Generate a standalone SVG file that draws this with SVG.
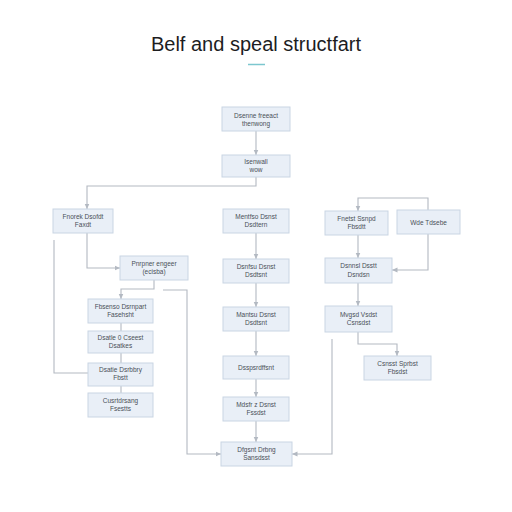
<svg xmlns="http://www.w3.org/2000/svg" width="512" height="512" viewBox="0 0 512 512">
<style>
.n rect{fill:#e9eff7;stroke:#c9d5e3;stroke-width:1}
.n text{font-family:"Liberation Sans",Arial,sans-serif;font-size:6.5px;fill:#4a4f57;text-anchor:middle}
.c path{fill:none;stroke:#b3b9c2;stroke-width:1.1}
.title{font-family:"Liberation Sans",Arial,sans-serif;font-size:20px;fill:#1d1d1f;text-anchor:middle}
</style>
<defs>
<marker id="ah" markerWidth="6" markerHeight="6" refX="5.5" refY="3" orient="auto" markerUnits="userSpaceOnUse">
<path d="M0,0.5 L5.5,3 L0,5.5 Z" fill="#b3b9c2"/>
</marker>
</defs>
<rect width="512" height="512" fill="#ffffff"/>
<text class="title" x="256" y="51">Belf and speal structfart</text>
<line x1="248" y1="64.5" x2="265" y2="64.5" stroke="#7cc7cf" stroke-width="1.5"/>

<g class="c" id="connectors">
<path d="M256,131 V155" marker-end="url(#ah)"/>
<path d="M256,177 V186 H87 V209" marker-end="url(#ah)"/>
<path d="M87,233 V268 H120" marker-end="url(#ah)"/>
<path d="M54,240 V373 H88"/>
<path d="M154,280 V289 H121 V299" marker-end="url(#ah)"/>
<path d="M121,323 V331 M121,353 V363 M121,386 V393"/>
<path d="M163,290 H187 V454 H221" marker-end="url(#ah)"/>
<path d="M256,233 V259" marker-end="url(#ah)"/>
<path d="M256,283 V307" marker-end="url(#ah)"/>
<path d="M256,331 V356" marker-end="url(#ah)"/>
<path d="M256,379 V397" marker-end="url(#ah)"/>
<path d="M256,421 V442" marker-end="url(#ah)"/>
<path d="M428,210 V198 H358 V211" marker-end="url(#ah)"/>
<path d="M358,235 V258" marker-end="url(#ah)"/>
<path d="M428,234 V270 H392" marker-end="url(#ah)"/>
<path d="M358,283 V306" marker-end="url(#ah)"/>
<path d="M358,332 V344 H397 V356" marker-end="url(#ah)"/>
<path d="M332,339 V454 H292" marker-end="url(#ah)"/>
</g>

<g class="n" id="n1"><rect x="222" y="107" width="68" height="24"/><text x="256" y="118">Dsenne freeact</text><text x="256" y="126">thenwong</text></g>
<g class="n" id="n2"><rect x="222" y="155" width="68" height="22"/><text x="256" y="164">Isenwall</text><text x="256" y="172">wow</text></g>

<g class="n" id="n3"><rect x="53" y="209" width="60" height="24"/><text x="83" y="219">Fnorek Dsofdt</text><text x="83" y="227">Faxdt</text></g>
<g class="n" id="n4"><rect x="120" y="256" width="68" height="24"/><text x="154" y="266">Pnrpner engeer</text><text x="154" y="274">(ecisba)</text></g>
<g class="n" id="n5"><rect x="88" y="299" width="65" height="24"/><text x="120.5" y="309">Fbsenso Dsrnpart</text><text x="120.5" y="317">Fasehsht</text></g>
<g class="n" id="n6"><rect x="88" y="331" width="65" height="22"/><text x="120.5" y="340">Dsatle 0 Cseest</text><text x="120.5" y="348">Dsatkes</text></g>
<g class="n" id="n7"><rect x="88" y="363" width="65" height="23"/><text x="120.5" y="372">Dsatie Dsrbbry</text><text x="120.5" y="380">Fbstt</text></g>
<g class="n" id="n8"><rect x="88" y="393" width="65" height="24"/><text x="120.5" y="403">Cusrtdrsang</text><text x="120.5" y="411">Fsestts</text></g>

<g class="n" id="n9"><rect x="223" y="209" width="66" height="24"/><text x="256" y="219">Mentfso Dsnst</text><text x="256" y="227">Dsdtern</text></g>
<g class="n" id="n10"><rect x="223" y="259" width="66" height="24"/><text x="256" y="269">Dsnfsu Dsnst</text><text x="256" y="277">Dsdtsnt</text></g>
<g class="n" id="n11"><rect x="223" y="307" width="66" height="24"/><text x="256" y="317">Mantsu Dsnst</text><text x="256" y="325">Dsdtsnt</text></g>
<g class="n" id="n12"><rect x="223" y="356" width="66" height="23"/><text x="256" y="370">Dsspsrdffsnt</text></g>
<g class="n" id="n13"><rect x="223" y="397" width="66" height="24"/><text x="256" y="407">Mdsfr z Dsnst</text><text x="256" y="415">Fssdst</text></g>
<g class="n" id="n14"><rect x="221" y="442" width="71" height="24"/><text x="256.5" y="452">Dfgsnt Drbng</text><text x="256.5" y="460">Sansdsst</text></g>

<g class="n" id="n15"><rect x="325" y="211" width="63" height="24"/><text x="356.5" y="221">Fnetst Ssnpd</text><text x="356.5" y="229">Fbsdtt</text></g>
<g class="n" id="n16"><rect x="397" y="210" width="63" height="24"/><text x="428.5" y="224.5">Wde Tdsebe</text></g>
<g class="n" id="n17"><rect x="325" y="258" width="67" height="25"/><text x="358.5" y="268">Dsnnsl Dsstt</text><text x="358.5" y="277">Dsndsn</text></g>
<g class="n" id="n18"><rect x="325" y="306" width="67" height="26"/><text x="358.5" y="317">Mvgsd Vsdst</text><text x="358.5" y="325">Csnsdst</text></g>
<g class="n" id="n19"><rect x="364" y="356" width="67" height="24"/><text x="397.5" y="366">Csnsst Sprbst</text><text x="397.5" y="374">Fbsdst</text></g>
</svg>
